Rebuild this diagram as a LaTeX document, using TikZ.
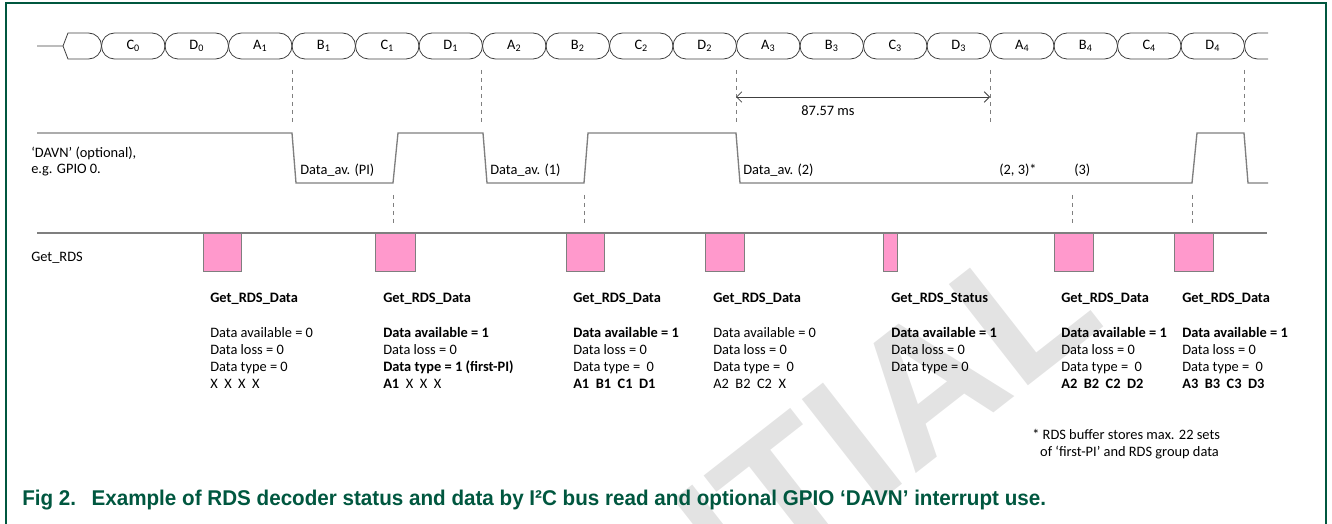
\documentclass[tikz,border=0pt]{standalone}
\usepackage{fontspec}
\setmainfont{Carlito}
\newfontfamily\capfont{Liberation Sans}
\usepackage{graphicx}
\usetikzlibrary{shapes.misc,arrows.meta}

\definecolor{nxpgreen}{HTML}{00573F}
\definecolor{reqpink}{HTML}{FF99CC}
\definecolor{busgray}{HTML}{404040}
\definecolor{siggray}{HTML}{7F7F7F}

\begin{document}
\begin{tikzpicture}[x = 0.75pt, y = -0.75pt, font = \fontsize{10.8}{12.75}\selectfont,
  cell/.style = {draw = busgray, rounded rectangle, minimum width = 47.625pt,
    minimum height = 19.5pt, inner sep = 0pt, line width = 0.6pt},
  sig/.style = {draw = siggray, line width = 1pt},
  guide/.style = {draw = siggray, dashed, line width = 0.6pt},
  req/.style = {draw = siggray, fill = reqpink, line width = 0.6pt},
  info/.style = {anchor = north west, align = left, inner sep = 0pt}]
\useasboundingbox (0, 0) rectangle (1332, 524);
% Watermark
\begin{scope}
\clip (0, 0) rectangle (1332, 524);
\node[text = gray!22, rotate = 38, anchor = south east, inner sep = 0pt,
  font = \capfont\bfseries\fontsize{140}{140}\selectfont] (stamp) at (1110, 325) {CONFIDENTIAL};
\end{scope}
% Frame
\draw[nxpgreen, line width = 1.5pt] (6, 524) -- (6, 3) -- (1326, 3) -- (1326, 524);
% RDS group blocks
\draw[busgray, line width = 0.6pt] (37, 46) -- (63, 46) -- (68, 33) -- (88.5, 33)
  to[out = 0, in = 90] (101.5, 46) to[out = -90, in = 0] (88.5, 59) -- (68, 59) -- (63, 46);
\node[cell] (c0) at (133.25, 46) {C\textsubscript{0}};
\node[cell] (d0) at (196.75, 46) {D\textsubscript{0}};
\node[cell] (a1) at (260.25, 46) {A\textsubscript{1}};
\node[cell] (b1) at (323.75, 46) {B\textsubscript{1}};
\node[cell] (c1) at (387.25, 46) {C\textsubscript{1}};
\node[cell] (d1) at (450.75, 46) {D\textsubscript{1}};
\node[cell] (a2) at (514.25, 46) {A\textsubscript{2}};
\node[cell] (b2) at (577.75, 46) {B\textsubscript{2}};
\node[cell] (c2) at (641.25, 46) {C\textsubscript{2}};
\node[cell] (d2) at (704.75, 46) {D\textsubscript{2}};
\node[cell] (a3) at (768.25, 46) {A\textsubscript{3}};
\node[cell] (b3) at (831.75, 46) {B\textsubscript{3}};
\node[cell] (c3) at (895.25, 46) {C\textsubscript{3}};
\node[cell] (d3) at (958.75, 46) {D\textsubscript{3}};
\node[cell] (a4) at (1022.25, 46) {A\textsubscript{4}};
\node[cell] (b4) at (1085.75, 46) {B\textsubscript{4}};
\node[cell] (c4) at (1149.25, 46) {C\textsubscript{4}};
\node[cell] (d4) at (1212.75, 46) {D\textsubscript{4}};
\draw[busgray, line width = 0.6pt] (1268, 33) -- (1257.5, 33) to[out = 180, in = 90] (1244.5, 46)
  to[out = -90, in = 180] (1257.5, 59) -- (1268, 59);
% Group boundaries
\draw[guide] (292, 70) -- (292, 122);
\draw[guide] (481, 70) -- (481, 122);
\draw[guide] (736, 70) -- (736, 122);
\draw[guide] (990, 70) -- (990, 122);
\draw[guide] (1244, 70) -- (1244, 122);
\draw[busgray, line width = 0.6pt, {Straight Barb[length = 4pt, width = 8pt]}-{Straight Barb[length = 4pt, width = 8pt]}]
  (736, 97) -- (990, 97);
\node (period) at (828, 111) {87.57 ms};
% DAVN signal
\draw[sig] (37, 133) -- (292, 133) -- (296, 183) -- (393, 183) -- (398, 133) -- (483, 133)
  -- (487, 183) -- (584, 183) -- (588, 133) -- (736, 133) -- (740, 183) -- (1192, 183)
  -- (1197, 133) -- (1244, 133) -- (1248, 183) -- (1268, 183);
\node[info, anchor = west] (davn) at (31, 153) {‘DAVN’ (optional),};
\node[info, anchor = west] (gpio) at (31, 170) {e.g. GPIO 0.};
\node[info, anchor = west] (avpi) at (300, 170) {Data\_av. (PI)};
\node[info, anchor = west] (av1) at (490, 170) {Data\_av. (1)};
\node[info, anchor = west] (av2) at (743, 170) {Data\_av. (2)};
\node[info, anchor = west] (av23) at (999, 170) {(2, 3)*};
\node[info, anchor = west] (av3) at (1074, 170) {(3)};
% Read markers
\draw[guide] (393, 195) -- (393, 225);
\draw[guide] (584, 195) -- (584, 225);
\draw[guide] (1072, 195) -- (1072, 225);
\draw[guide] (1192, 195) -- (1192, 225);
% Get_RDS requests
\draw[sig] (37, 233) -- (1267, 233);
\node[info, anchor = west] (getrds) at (31, 258) {Get\_RDS};
\draw[req] (203, 233) rectangle (241, 271);
\draw[req] (375, 233) rectangle (415, 271);
\draw[req] (566, 233) rectangle (604, 271);
\draw[req] (705, 233) rectangle (744, 271);
\draw[req] (883, 233) rectangle (897, 271);
\draw[req] (1054, 233) rectangle (1093, 271);
\draw[req] (1174, 233) rectangle (1213, 271);
% Read results
\node[info] (r1) at (210, 293) {\textbf{Get\_RDS\_Data}\\[13.5pt]Data available = 0\\Data loss = 0\\Data type = 0\\X~~X~~X~~X};
\node[info] (r2) at (383, 293) {\textbf{Get\_RDS\_Data}\\[13.5pt]\textbf{Data available = 1}\\Data loss = 0\\\textbf{Data type = 1 (first-PI)}\\\textbf{A1}~~X~~X~~X};
\node[info] (r3) at (573, 293) {\textbf{Get\_RDS\_Data}\\[13.5pt]\textbf{Data available = 1}\\Data loss = 0\\Data type =~~0\\\textbf{A1~~B1~~C1~~D1}};
\node[info] (r4) at (713, 293) {\textbf{Get\_RDS\_Data}\\[13.5pt]Data available = 0\\Data loss = 0\\Data type =~~0\\A2~~B2~~C2~~X};
\node[info] (r5) at (891, 293) {\textbf{Get\_RDS\_Status}\\[13.5pt]\textbf{Data available = 1}\\Data loss = 0\\Data type = 0};
\node[info] (r6) at (1061, 293) {\textbf{Get\_RDS\_Data}\\[13.5pt]\textbf{Data available = 1}\\Data loss = 0\\Data type =~~0\\\textbf{A2~~B2~~C2~~D2}};
\node[info] (r7) at (1182, 293) {\textbf{Get\_RDS\_Data}\\[13.5pt]\textbf{Data available = 1}\\Data loss = 0\\Data type =~~0\\\textbf{A3~~B3~~C3~~D3}};
\node[info] (note) at (1032, 429) {* RDS buffer stores max. 22 sets\\\hspace*{0.55em}of ‘first-PI’ and RDS group data};
% Caption
\node[anchor = west, inner sep = 0pt, text = nxpgreen, font = \capfont\bfseries\fontsize{16}{16}\selectfont]
  (caption) at (22, 500) {\scalebox{0.967}[1]{Fig 2.\hspace{0.75em}Example of RDS decoder status and data by I²C bus read and optional GPIO ‘DAVN’ interrupt use.}};
\end{tikzpicture}
\end{document}
